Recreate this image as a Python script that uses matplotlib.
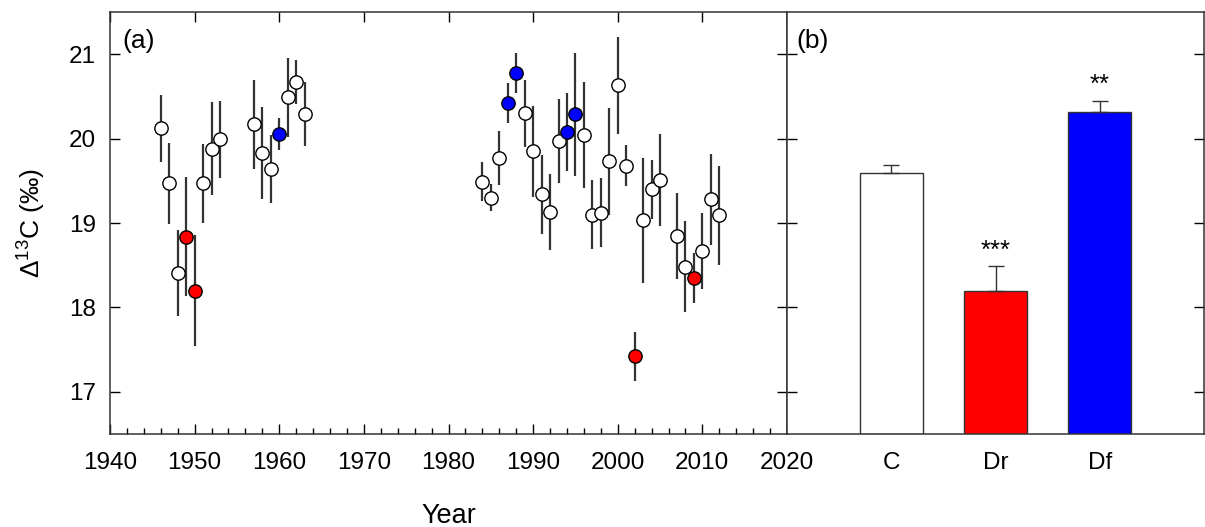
import matplotlib
matplotlib.use('Agg')
import matplotlib.pyplot as plt
from matplotlib.ticker import MultipleLocator
import numpy as np

plt.rcParams['font.family'] = ['Liberation Sans', 'DejaVu Sans']
plt.rcParams['mathtext.fontset'] = 'custom'
plt.rcParams['mathtext.rm'] = 'Liberation Sans'
plt.rcParams['mathtext.it'] = 'Liberation Sans:italic'

# panel (a): yearly values, error, group (C = control, Dr = dry, Df = flood)
years = [1946, 1947, 1948, 1949, 1950, 1951, 1952, 1953,
         1957, 1958, 1959, 1960, 1961, 1962, 1963,
         1984, 1985, 1986, 1987, 1988, 1989, 1990, 1991, 1992, 1993,
         1994, 1995, 1996, 1997, 1998, 1999, 2000, 2001, 2002, 2003,
         2004, 2005, 2007, 2008, 2009, 2010, 2011, 2012]
d13c = [20.12, 19.47, 18.41, 18.84, 18.20, 19.47, 19.88, 19.99,
        20.17, 19.83, 19.64, 20.05, 20.49, 20.67, 20.29,
        19.49, 19.30, 19.77, 20.42, 20.78, 20.30, 19.85, 19.34, 19.13, 19.97,
        20.08, 20.29, 20.04, 19.10, 19.12, 19.73, 20.63, 19.68, 17.42, 19.03,
        19.40, 19.51, 18.85, 18.48, 18.35, 18.67, 19.28, 19.09]
d13c_err = [0.40, 0.48, 0.51, 0.70, 0.66, 0.47, 0.55, 0.46,
            0.53, 0.55, 0.40, 0.19, 0.47, 0.26, 0.38,
            0.23, 0.16, 0.32, 0.24, 0.24, 0.40, 0.54, 0.47, 0.45, 0.50,
            0.46, 0.73, 0.63, 0.41, 0.41, 0.63, 0.57, 0.24, 0.29, 0.74,
            0.35, 0.55, 0.51, 0.54, 0.30, 0.45, 0.54, 0.59]
groups = ['C', 'C', 'C', 'Dr', 'Dr', 'C', 'C', 'C',
          'C', 'C', 'C', 'Df', 'C', 'C', 'C',
          'C', 'C', 'C', 'Df', 'Df', 'C', 'C', 'C', 'C', 'C',
          'Df', 'Df', 'C', 'C', 'C', 'C', 'C', 'C', 'Dr', 'C',
          'C', 'C', 'C', 'C', 'Dr', 'C', 'C', 'C']

# panel (b): group means
bar_labels = ['C', 'Dr', 'Df']
bar_means = [19.59, 18.20, 20.32]
bar_err = [0.10, 0.29, 0.13]
bar_sig = ['', '***', '**']

colors = {'C': 'white', 'Dr': '#ff0000', 'Df': '#0000ff'}
spine_col = '#333333'

fig = plt.figure(figsize=(12.05, 5.27), dpi=100)
ax1 = fig.add_axes([110 / 1205, 1 - 434 / 527, (787 - 110) / 1205, (434 - 12) / 527])
ax2 = fig.add_axes([787 / 1205, 1 - 434 / 527, (1204 - 787) / 1205, (434 - 12) / 527])

# --- panel a
for g in ['C', 'Dr', 'Df']:
    idx = [i for i, k in enumerate(groups) if k == g]
    x = np.array(years)[idx]
    y = np.array(d13c)[idx]
    e = np.array(d13c_err)[idx]
    ax1.errorbar(x, y, yerr=e, fmt='none', ecolor='#333333', elinewidth=1.6, capsize=0, zorder=2)
    ax1.plot(x, y, 'o', ms=9.6, mfc=colors[g], mec='black', mew=1.0, zorder=3)

ax1.set_xlim(1940, 2020)
ax1.set_ylim(16.5, 21.5)
ax1.xaxis.set_major_locator(MultipleLocator(10))
ax1.xaxis.set_minor_locator(MultipleLocator(2))
ax1.yaxis.set_major_locator(MultipleLocator(1))
ax1.tick_params(axis='x', which='major', direction='in', length=7, width=1, top=True, pad=13, labelsize=17.5)
ax1.tick_params(axis='x', which='minor', direction='in', length=4, width=1, top=False)
ax1.tick_params(axis='y', which='major', direction='in', length=7, width=1, right=True, pad=10, labelsize=17.5)
ax1.set_xlabel('Year', fontsize=19.5, labelpad=21)
ax1.set_ylabel('Δ$^{13}$C (‰)', fontsize=19, labelpad=15)
ax1.text(0.018, 0.96, '(a)', transform=ax1.transAxes, fontsize=19, va='top', ha='left')

# --- panel b
xpos = np.arange(1, len(bar_labels) + 1)
heights = np.array(bar_means) - 16.5
ax2.bar(xpos, heights, bottom=16.5, width=0.6,
        color=[colors[k] for k in bar_labels], edgecolor='#333333', linewidth=1.0, zorder=2)
ax2.errorbar(xpos, bar_means, yerr=[np.zeros(3), bar_err], fmt='none',
             ecolor='#333333', elinewidth=1.0, capsize=6, capthick=1.0, zorder=3)
for xp, m, e, s in zip(xpos, bar_means, bar_err, bar_sig):
    if s:
        ax2.text(xp, m + e + 0.1, s, ha='center', va='baseline', fontsize=18.5)

ax2.set_xlim(0, 4)
ax2.set_ylim(16.5, 21.5)
ax2.set_xticks(xpos)
ax2.set_xticklabels(bar_labels)
ax2.yaxis.set_major_locator(MultipleLocator(1))
ax2.tick_params(axis='x', length=0, pad=13, labelsize=17.5)
ax2.tick_params(axis='y', direction='in', length=7, width=1, left=True, right=True, labelleft=False)
ax2.text(0.022, 0.96, '(b)', transform=ax2.transAxes, fontsize=19, va='top', ha='left')

for ax in (ax1, ax2):
    for sp in ax.spines.values():
        sp.set_color(spine_col)
        sp.set_linewidth(1.1)

fig.savefig('out.png', dpi=100)
